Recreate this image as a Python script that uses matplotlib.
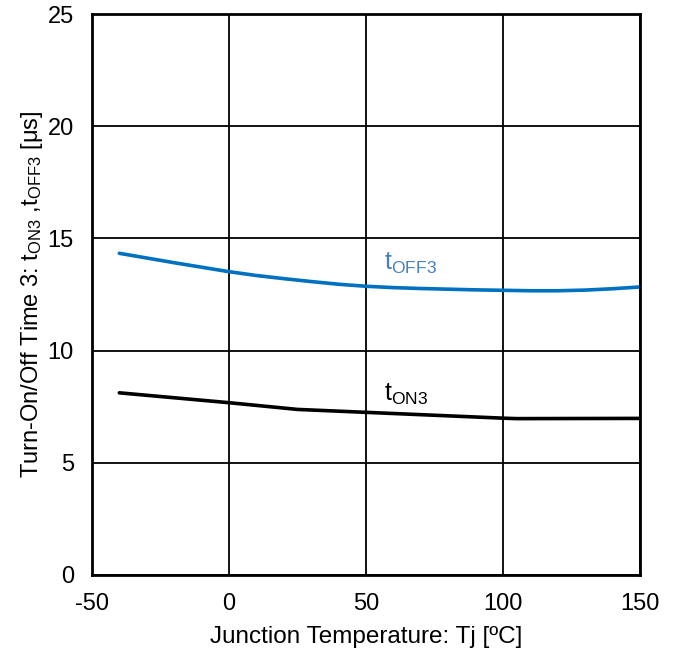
import numpy as np
import matplotlib.pyplot as plt

plt.rcParams['font.family'] = ['Liberation Sans', 'DejaVu Sans']
plt.rcParams['axes.unicode_minus'] = False

# readings from the chart
temp_off = [-40, -30, -20, -10, 0, 10, 20, 30, 40, 50, 60, 70, 80, 90, 100, 110, 120, 130, 140, 150]
t_off3 = [14.34, 14.13, 13.92, 13.72, 13.52, 13.35, 13.21, 13.08, 12.96, 12.87, 12.81, 12.77, 12.74, 12.71, 12.69, 12.67, 12.67, 12.70, 12.76, 12.84]
temp_on = [-40, 0, 25, 50, 75, 100, 105, 150]
t_on3 = [8.12, 7.68, 7.38, 7.25, 7.12, 6.99, 6.97, 6.98]

fig = plt.figure(figsize=(6.76, 6.59), dpi=100)
ax = fig.add_axes([0.136, 0.1275, 0.811, 0.851])

ax.plot(temp_off, t_off3, color='#0070C0', linewidth=2.6, solid_capstyle='round')
ax.plot(temp_on, t_on3, color='black', linewidth=2.6, solid_capstyle='round')

ax.text(56.5, 13.6, r'$\mathregular{t_{OFF3}}$', color='#4A7EC2', fontsize=18)
ax.text(56.5, 7.75, r'$\mathregular{t_{ON3}}$', color='black', fontsize=18)

ax.set_xlim(-50, 150)
ax.set_ylim(0, 25)
ax.set_xticks(np.arange(-50, 151, 50))
ax.set_yticks(np.arange(0, 26, 5))
ax.grid(True, color='black', linewidth=1.3)
ax.tick_params(length=0, labelsize=17, pad=13)
for s in ax.spines.values():
    s.set_linewidth(2)

ax.set_xlabel('Junction Temperature: Tj [ºC]', fontsize=17.5, labelpad=8)
ax.set_ylabel(r'Turn-On/Off Time 3: $\mathregular{t_{ON3}}$ ,$\mathregular{t_{OFF3}}$ [μs]', fontsize=17, labelpad=2)

plt.savefig('out.png', dpi=100)
